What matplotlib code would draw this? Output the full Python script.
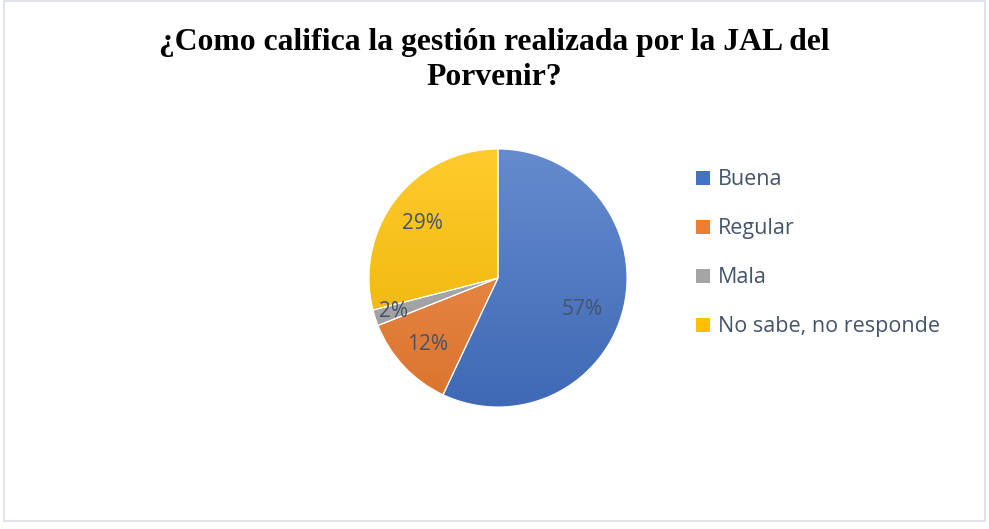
import numpy as np
import matplotlib
matplotlib.use("Agg")
import matplotlib.pyplot as plt
from matplotlib.patches import Rectangle, Patch
from matplotlib.colors import to_rgb

categories = ["Buena", "Regular", "Mala", "No sabe, no responde"]
values = [57, 12, 2, 29]
title = "¿Como califica la gestión realizada por la JAL del\nPorvenir?"

colors = ["#4472C4", "#ED7D31", "#A5A5A5", "#FFC000"]
label_r = [0.70, 0.75, 0.85, 0.72]
label_dang = [-8, 0, 0, 2]
text_color = "#44546A"

W, H = 989, 529
fig = plt.figure(figsize=(W / 100, H / 100), dpi=100)
fig.patch.set_facecolor("white")

# border
fig.add_artist(Rectangle((4 / W, 8 / H), (W - 8) / W, (H - 8.5) / H,
                         transform=fig.transFigure, fill=False,
                         edgecolor="#DADFE6", linewidth=1.2))

cx, cy, R = 498, H - 278, 129
ax = fig.add_axes([(cx - R) / W, (cy - R) / H, 2 * R / W, 2 * R / H])

wedges, _ = ax.pie(values, startangle=90, counterclock=False, radius=1,
                   colors=colors, wedgeprops=dict(edgecolor="white", linewidth=0.8))
ax.set_aspect("equal")
ax.axis("off")


def mix(c, t, amt):
    c = np.array(to_rgb(c)); t = np.array(to_rgb(t))
    return c * (1 - amt) + t * amt


for w, c in zip(wedges, colors):
    top = mix(c, "white", 0.18)
    bot = mix(c, "black", 0.08)
    n = 256
    tvals = np.linspace(0, 1, n)[:, None]
    grad = top[None, :] * (1 - tvals) + bot[None, :] * tvals
    img = np.repeat(grad[:, None, :], 2, axis=1)
    im = ax.imshow(img, extent=[-1, 1, -1, 1], origin="upper",
                   aspect="auto", zorder=w.get_zorder() + 0.1,
                   interpolation="bilinear")
    im.set_clip_path(w)
    w.set_facecolor("none")
    w.set_zorder(w.get_zorder() + 0.2)
ax.set_xlim(-1, 1)
ax.set_ylim(-1, 1)

total = sum(values)
for w, v, r, da in zip(wedges, values, label_r, label_dang):
    ang = np.deg2rad((w.theta1 + w.theta2) / 2 + da)
    ax.text(r * np.cos(ang), r * np.sin(ang), f"{round(100 * v / total)}%",
            ha="center", va="center", fontsize=15, color=text_color,
            family="Open Sans", zorder=10)

fig.text(0.5, (H - 60) / H, title, ha="center", va="center",
         fontsize=22.8, fontweight="bold", family="Liberation Serif",
         color="black", linespacing=1.28)

handles = [Patch(facecolor=c, edgecolor="none") for c in colors]
leg = fig.legend(handles, categories, loc="upper left",
                 bbox_to_anchor=(677 / W, (H - 150) / H),
                 frameon=False, labelspacing=1.3,
                 handlelength=0.62, handleheight=0.62, handletextpad=0.4,
                 prop=dict(family="Open Sans", size=15.5))
for t in leg.get_texts():
    t.set_color(text_color)

fig.savefig("out.png", dpi=100, facecolor="white")
